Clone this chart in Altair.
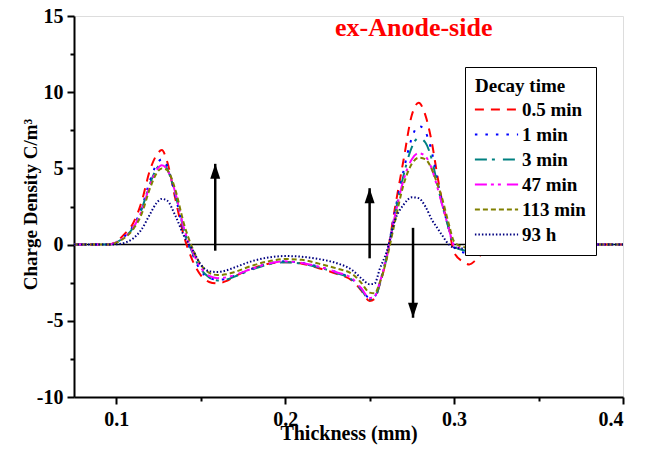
import altair as alt
import pandas as pd

FONT = "Liberation Serif"

# ---- data ----
thickness = [0.075, 0.095, 0.1, 0.105, 0.11, 0.115, 0.12, 0.124, 0.127, 0.13,
             0.135, 0.14, 0.145, 0.15, 0.155, 0.16, 0.165, 0.17, 0.18, 0.19,
             0.2, 0.21, 0.22, 0.23, 0.24, 0.245, 0.25, 0.253, 0.256, 0.26,
             0.265, 0.27, 0.275, 0.279, 0.283, 0.287, 0.29, 0.293, 0.297, 0.3,
             0.305, 0.309, 0.313, 0.318, 0.325, 0.4]

min_0_5 = [0, 0, 0.2, 0.7, 1.4, 2.8, 4.9, 5.9, 6.2, 5.5, 3.0, 0.6, -1.0, -2.0, -2.45, -2.55,
           -2.4, -2.1, -1.6, -1.25, -1.15, -1.25, -1.55, -1.9, -2.4, -3.0, -3.7, -3.55, -2.6, -0.9,
           2.4, 5.5, 8.5, 9.3, 8.5, 6.6, 4.6, 2.8, 1.0, -0.5, -1.1, -1.3, -1.0, -0.4, 0, 0]
min_1 = [0, 0, 0.15, 0.55, 1.2, 2.4, 4.2, 5.3, 5.6, 5.2, 3.2, 0.9, -0.6, -1.7, -2.2, -2.3,
         -2.25, -2.05, -1.6, -1.25, -1.1, -1.2, -1.45, -1.8, -2.3, -2.9, -3.5, -3.4, -2.5, -0.8,
         2.2, 4.8, 7.0, 7.8, 7.4, 6.0, 4.3, 2.7, 1.0, -0.2, -0.5, -0.55, -0.35, -0.1, 0, 0]
min_3 = [0, 0, 0.15, 0.5, 1.1, 2.3, 4.0, 5.0, 5.3, 5.0, 3.3, 1.0, -0.5, -1.6, -2.15, -2.35,
         -2.3, -2.1, -1.65, -1.3, -1.15, -1.25, -1.5, -1.85, -2.35, -2.95, -3.6, -3.5, -2.6, -0.9,
         2.0, 4.5, 6.4, 7.0, 6.7, 5.5, 4.0, 2.6, 1.0, -0.1, -0.35, -0.4, -0.25, -0.05, 0, 0]
min_47 = [0, 0, 0.15, 0.5, 1.1, 2.2, 3.9, 4.9, 5.2, 4.95, 3.4, 1.1, -0.4, -1.5, -2.05, -2.2,
          -2.15, -2.0, -1.6, -1.25, -1.1, -1.2, -1.45, -1.8, -2.25, -2.85, -3.5, -3.4, -2.5, -0.8,
          1.9, 4.2, 5.6, 6.0, 5.8, 4.9, 3.8, 2.6, 1.0, -0.05, -0.25, -0.3, -0.2, -0.05, 0, 0]
min_113 = [0, 0, 0.12, 0.45, 1.0, 2.0, 3.7, 4.7, 5.0, 4.9, 3.6, 1.4, -0.2, -1.3, -1.85, -2.0,
           -1.95, -1.8, -1.4, -1.1, -0.95, -1.0, -1.25, -1.55, -1.95, -2.5, -3.15, -3.2, -2.5, -1.0,
           1.5, 3.9, 5.3, 5.7, 5.6, 4.9, 4.0, 3.0, 1.3, 0.2, -0.15, -0.2, -0.1, 0, 0, 0]
h_93 = [0, 0, 0.02, 0.12, 0.4, 1.0, 2.0, 2.75, 3.0, 2.9, 1.9, 0.6, -0.3, -1.3, -1.75, -1.8,
        -1.7, -1.5, -1.1, -0.85, -0.75, -0.8, -0.95, -1.2, -1.7, -2.2, -2.6, -2.55, -1.6, -0.5,
        1.6, 2.6, 3.1, 3.05, 2.5, 1.6, 1.1, 0.6, 0.0, -0.2, -0.25, -0.2, -0.1, 0, 0, 0]

series_names = ["0.5 min", "1 min", "3 min", "47 min", "113 min", "93 h"]
series_values = [min_0_5, min_1, min_3, min_47, min_113, h_93]
series_colors = ["#ff0000", "#0000ff", "#008080", "#ff00ff", "#808000", "#000080"]
series_dashes = [[9, 7], [2.5, 8], [12, 5, 3, 8], [12, 4, 3, 4, 3, 6], [5, 3], [1.5, 2]]

x_ticks = [0.1, 0.2, 0.3, 0.4]
x_minor = [0.15, 0.25, 0.35]
y_ticks = [-10, -5, 0, 5, 10, 15]
y_minor = [-7.5, -2.5, 2.5, 7.5, 12.5]

arrow_x = [0.1586, 0.250, 0.2757]
arrow_from = [-0.4, -0.9, 1.1]
arrow_to = [5.3, 3.7, -4.8]
arrow_dir = ["up", "up", "down"]

# ---- tables ----
rows = []
for name, vals in zip(series_names, series_values):
    for i, (x, y) in enumerate(zip(thickness, vals)):
        rows.append({"Thickness": x, "Charge": y, "Series": name, "i": i})
df = pd.DataFrame(rows)
arrows = pd.DataFrame({"x": arrow_x, "y": arrow_from, "y2": arrow_to, "dir": arrow_dir})
zero = pd.DataFrame({"y": [0]})

xscale = alt.Scale(domain=[0.075, 0.4], nice=False, zero=False)
yscale = alt.Scale(domain=[-10, 15], nice=False, zero=False)

axis_common = dict(labelFont=FONT, labelFontSize=20, labelFontWeight="bold", labelColor="black",
                   titleFont=FONT, titleFontWeight="bold", titleColor="black",
                   domainColor="black", domainWidth=2, tickColor="black", tickWidth=2,
                   tickSize=7, grid=False)

legend = alt.Legend(
    title="Decay time", orient="none", legendX=391, legendY=51,
    titleFont=FONT, titleFontSize=19, titleFontWeight="bold", titleColor="black",
    titlePadding=4,
    labelFont=FONT, labelFontSize=19, labelFontWeight="bold", labelColor="black",
    labelLimit=300, labelOffset=16,
    symbolType="M-2.7,0L2.7,0", symbolSize=256, symbolStrokeWidth=2, symbolOffset=12,
    rowPadding=5, padding=10, strokeColor="black", fillColor="white",
)

lines = alt.Chart(df).mark_line(strokeWidth=2, interpolate="monotone", clip=True).encode(
    x=alt.X("Thickness:Q", scale=xscale,
            axis=alt.Axis(orient="bottom", values=x_ticks, format=".1f", title="Thickness (mm)",
                          labelPadding=5, titleFontSize=20, titleY=42, titleBaseline="alphabetic",
                          **axis_common)),
    y=alt.Y("Charge:Q", scale=yscale,
            axis=alt.Axis(orient="left", values=y_ticks, labelExpr="'' + datum.value",
                          title="Charge Density C/m³", labelPadding=4, titleFontSize=19,
                          titleAngle=-90, titleX=-38, titleY=188, titleAlign="center",
                          titleBaseline="alphabetic", **axis_common)),
    color=alt.Color("Series:N", scale=alt.Scale(domain=series_names, range=series_colors),
                    sort=series_names, legend=legend),
    strokeDash=alt.StrokeDash("Series:N", scale=alt.Scale(domain=series_names, range=series_dashes),
                              sort=series_names, legend=legend),
    order="i:Q",
)

minor = alt.Chart(df).mark_point(opacity=0).encode(
    x=alt.X("Thickness:Q", scale=xscale,
            axis=alt.Axis(orient="bottom", values=x_minor, labels=False, domain=False, title=None,
                          tickSize=4, tickWidth=2, tickColor="black", grid=False)),
    y=alt.Y("Charge:Q", scale=yscale,
            axis=alt.Axis(orient="left", values=y_minor, labels=False, domain=False, title=None,
                          tickSize=4, tickWidth=2, tickColor="black", grid=False)),
)

zero_line = alt.Chart(zero).mark_rule(color="black", strokeWidth=1.5).encode(
    y=alt.Y("y:Q", scale=yscale, axis=None)
)

shafts = alt.Chart(arrows).mark_rule(color="black", strokeWidth=2.5).encode(
    x=alt.X("x:Q", scale=xscale, axis=None),
    y=alt.Y("y:Q", scale=yscale, axis=None),
    y2="y2:Q",
)

heads = alt.Chart(arrows).mark_point(filled=True, size=400, color="black", opacity=1).encode(
    x=alt.X("x:Q", scale=xscale, axis=None),
    y=alt.Y("y2:Q", scale=yscale, axis=None),
    shape=alt.Shape("dir:N", scale=alt.Scale(domain=["up", "down"],
                                             range=["M0,0L-0.5,1.5L0.5,1.5Z", "M0,0L-0.5,-1.5L0.5,-1.5Z"]),
                    legend=None),
)

chart = alt.layer(zero_line, lines, shafts, heads, minor).resolve_axis(
    x="independent", y="independent"
).properties(
    width=549, height=381,
    padding={"left": 74, "top": 16, "right": 24, "bottom": 59},
    autosize=alt.AutoSizeParams(type="none"),
    title=alt.TitleParams(text="ex-Anode-side", color="#ff0000", font=FONT, fontSize=26,
                          fontWeight="bold", anchor="start", frame="group", offset=0,
                          baseline="alphabetic", dx=261, dy=56),
).configure_view(stroke=None).configure(background="white")

chart.save("out.html", embed_options={"renderer": "svg", "actions": False})
